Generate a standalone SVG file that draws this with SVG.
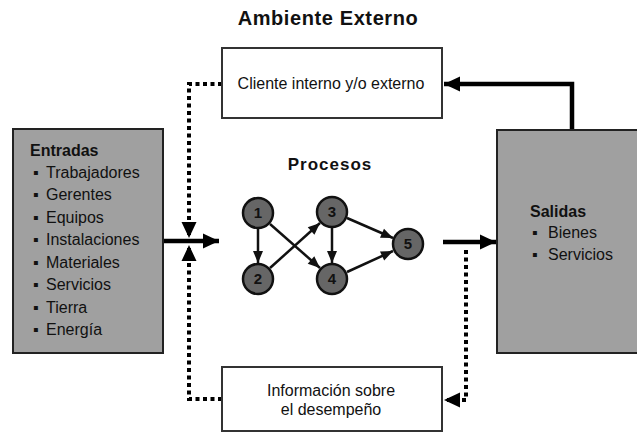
<svg xmlns="http://www.w3.org/2000/svg" width="637" height="435" viewBox="0 0 637 435">
<style>
text{font-family:"Liberation Sans",Arial,sans-serif;fill:#111}
.b{font-weight:bold}
.box{fill:#fff;stroke:#333;stroke-width:2}
.gbox{fill:#a0a0a0;stroke:#222;stroke-width:2}
.node{fill:#666;stroke:#111;stroke-width:2.5}
.num{font-size:15px;font-weight:bold;text-anchor:middle}
.item{font-size:16px}
.solid{fill:none;stroke:#000;stroke-width:4.5}
.dot{fill:none;stroke:#000;stroke-width:4;stroke-dasharray:4 3.5}
.edge{fill:none;stroke:#111;stroke-width:2.5}
</style>
<defs>
<marker id="big" markerUnits="userSpaceOnUse" markerWidth="18" markerHeight="18" viewBox="0 0 18 18" refX="17" refY="9" orient="auto"><path d="M1 1.5 L17 9 L1 16.5 Z" fill="#000"/></marker>
<marker id="sm" markerUnits="userSpaceOnUse" markerWidth="14" markerHeight="14" viewBox="0 0 14 14" refX="13" refY="7" orient="auto"><path d="M1 2 L13 7 L1 12 Z" fill="#111"/></marker>
</defs>
<rect width="637" height="435" fill="#fff"/>
<text class="b" x="328" y="25" font-size="20" text-anchor="middle" letter-spacing="0.6">Ambiente Externo</text>
<text class="b" x="330" y="170" font-size="17" text-anchor="middle" letter-spacing="1">Procesos</text>

<g id="connectors">
<path class="solid" d="M163 241 H219" marker-end="url(#big)"/>
<path class="solid" d="M443 242 H496" marker-end="url(#big)"/>
<path class="solid" d="M572 130 V84 H444" marker-end="url(#big)"/>
<path class="dot" d="M222 84 H189 V238" marker-end="url(#big)"/>
<path class="dot" d="M222 399 H189 V245" marker-end="url(#big)"/>
<path class="dot" d="M466 250 V400 H444" marker-end="url(#big)"/>
<line class="edge" x1="258" y1="229" x2="258" y2="263" marker-end="url(#sm)"/>
<line class="edge" x1="270" y1="224" x2="320" y2="268" marker-end="url(#sm)"/>
<line class="edge" x1="270" y1="268" x2="320" y2="223" marker-end="url(#sm)"/>
<line class="edge" x1="332" y1="228" x2="332" y2="263" marker-end="url(#sm)"/>
<line class="edge" x1="347" y1="218" x2="393" y2="238" marker-end="url(#sm)"/>
<line class="edge" x1="347" y1="272" x2="393" y2="251" marker-end="url(#sm)"/>
</g>

<g id="entradas">
<rect class="gbox" x="13" y="129" width="150" height="224"/>
<text class="b" x="30" y="156" font-size="16">Entradas</text>
<g class="item">
<text x="33" y="178">▪</text><text x="46" y="178">Trabajadores</text>
<text x="33" y="200">▪</text><text x="46" y="200">Gerentes</text>
<text x="33" y="223">▪</text><text x="46" y="223">Equipos</text>
<text x="33" y="245">▪</text><text x="46" y="245">Instalaciones</text>
<text x="33" y="268">▪</text><text x="46" y="268">Materiales</text>
<text x="33" y="290">▪</text><text x="46" y="290">Servicios</text>
<text x="33" y="313">▪</text><text x="46" y="313">Tierra</text>
<text x="33" y="335">▪</text><text x="46" y="335">Energía</text>
</g>
</g>

<g id="cliente">
<rect class="box" x="222" y="48" width="220" height="70"/>
<text x="331" y="89" font-size="16" text-anchor="middle">Cliente interno y/o externo</text>
</g>

<g id="informacion">
<rect class="box" x="222" y="367" width="220" height="64"/>
<text x="331" y="396" font-size="16" text-anchor="middle">Información sobre</text>
<text x="331" y="415" font-size="16" text-anchor="middle">el desempeño</text>
</g>

<g id="salidas">
<rect class="gbox" x="497" y="130" width="150" height="223"/>
<text class="b" x="530" y="217" font-size="16">Salidas</text>
<text x="532" y="238" font-size="16">▪</text><text x="548" y="238" font-size="16">Bienes</text>
<text x="532" y="260" font-size="16">▪</text><text x="548" y="260" font-size="16">Servicios</text>
</g>

<g id="n1"><circle class="node" cx="258" cy="213" r="15"/><text class="num" x="258" y="218">1</text></g>
<g id="n2"><circle class="node" cx="258" cy="279" r="15"/><text class="num" x="258" y="284">2</text></g>
<g id="n3"><circle class="node" cx="332" cy="212" r="15"/><text class="num" x="332" y="217">3</text></g>
<g id="n4"><circle class="node" cx="332" cy="279" r="15"/><text class="num" x="332" y="284">4</text></g>
<g id="n5"><circle class="node" cx="408" cy="244" r="15"/><text class="num" x="408" y="249">5</text></g>
</svg>
